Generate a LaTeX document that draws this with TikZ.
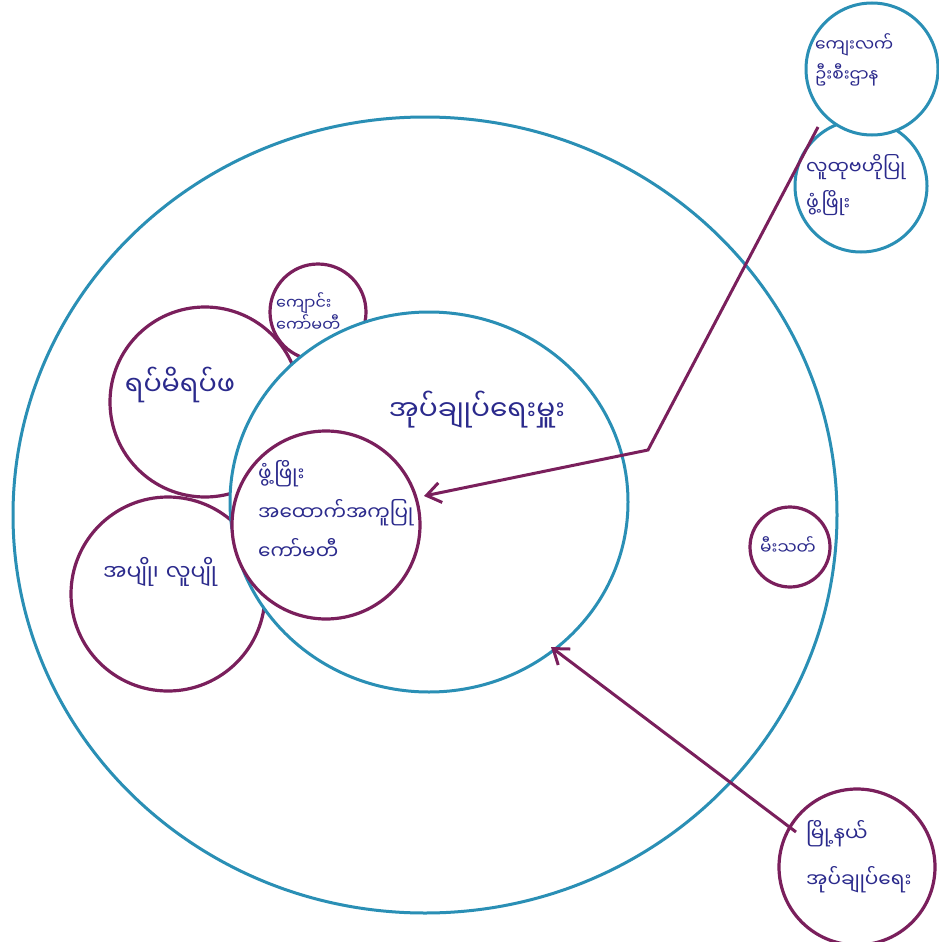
\documentclass[tikz,border=0pt]{standalone}
\usepackage{fontspec}
\newfontfamily\mya[Script=Myanmar]{Noto Sans Myanmar UI}
\usetikzlibrary{arrows.meta}
\definecolor{tealc}{HTML}{2A8FB5}
\definecolor{plum}{HTML}{7A1F5C}
\definecolor{inkc}{HTML}{2B2A8C}
\tikzset{
  bluering/.style={draw=tealc, line width=3pt},
  plumring/.style={draw=plum, line width=3.2pt},
  lbl/.style={text=inkc, align=left, inner sep=0pt},
  fs/.style n args={2}{font=\mya\fontsize{#1}{#2}\selectfont},
  arr/.style={draw=plum, line width=3pt, -{Straight Barb[length=14pt,width=20pt,line width=3pt]}}
}
\begin{document}
\begin{tikzpicture}[x=1pt,y=-1pt]
\useasboundingbox (0,0) rectangle (938,942);
\fill[white] (0,0) rectangle (938,942);
% outer ring
\draw[bluering] (425,515) ellipse [x radius=412, y radius=398];
% left purple circles (behind inner ring)
\draw[plumring, fill=white] (318,312) circle [radius=48];
\draw[plumring, fill=white] (205,402) circle [radius=95];
\draw[plumring, fill=white] (168,594) circle [radius=97];
% inner blue ring
\draw[bluering, fill=white] (429,502) ellipse [x radius=199, y radius=190];
% centre circle
\draw[plumring, fill=white] (326,525) circle [radius=94];
% right small circle
\draw[plumring, fill=white] (790,547) circle [radius=40];
% top-right circles
\draw[bluering, fill=white] (861,186) circle [radius=66];
\draw[bluering, fill=white] (872,69) circle [radius=66];
% bottom-right circle
\draw[plumring, fill=white] (857,867) circle [radius=78];

% named anchors
\coordinate (tr1) at (818,127);
\coordinate (bend) at (648,450);
\coordinate (ctr) at (424,496);
\coordinate (br) at (796,832);
\coordinate (inner) at (551,647);
\draw[arr] (tr1) -- (bend) -- (ctr);
\draw[arr] (br) -- (inner);

% labels
\node[lbl, fs={17}{30}, anchor=west] (t1) at (815,60) {ကျေးလက်\\ဦးစီးဌာန};
\node[lbl, fs={19}{36}, anchor=west] (t2) at (806,185) {လူထုဗဟိုပြု\\ဖွံ့ဖြိုး};
\node[lbl, fs={16}{22}, anchor=west] (t3) at (276,312) {ကျောင်း\\ကော်မတီ};
\node[lbl, fs={27}{32}] (t4) at (180,385) {ရပ်မိရပ်ဖ};
\node[lbl, fs={28}{32}] (t5) at (477,410) {အုပ်ချုပ်ရေးမှူး};
\node[lbl, fs={20}{39}, anchor=west] (t6) at (258,510) {ဖွံ့ဖြိုး\\အထောက်အကူပြု\\ကော်မတီ};
\node[lbl, fs={22}{28}] (t7) at (160,572) {အပျို၊\hspace{7pt}လူပျို};
\node[lbl, fs={17}{22}] (t8) at (788,546) {မီးသတ်};
\node[lbl, fs={20}{46}, anchor=west] (t9) at (806,857) {မြို့နယ်\\အုပ်ချုပ်ရေး};
\end{tikzpicture}
\end{document}
